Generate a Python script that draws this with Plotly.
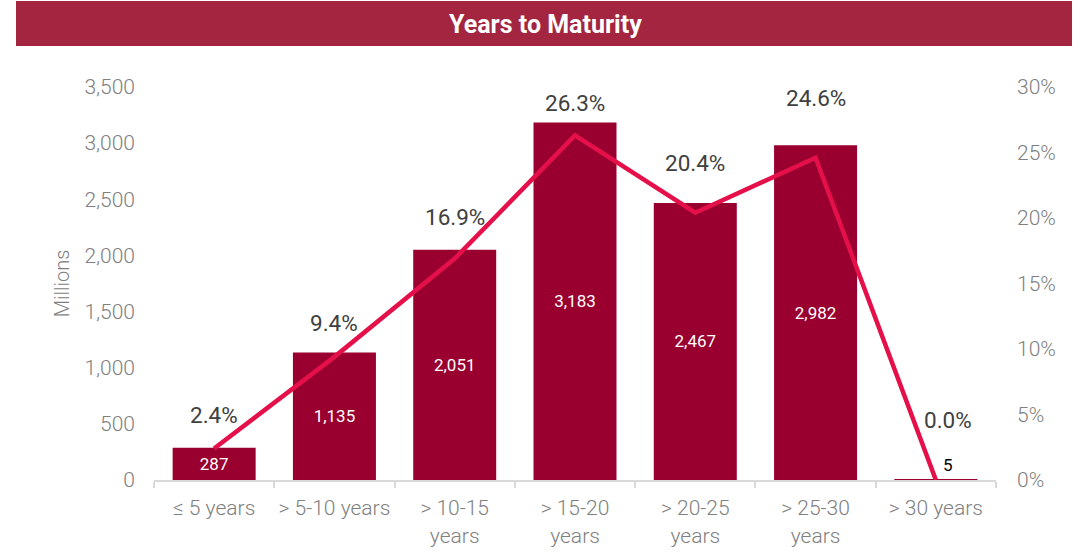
import plotly.graph_objects as go

# ── Data ───────────────────────────────────────────────────────────────────
categories = ["≤ 5 years", "> 5-10 years", "> 10-15<br>years", "> 15-20<br>years",
              "> 20-25<br>years", "> 25-30<br>years", "> 30 years"]
amounts = [287, 1135, 2051, 3183, 2467, 2982, 5]
shares = [2.4, 9.4, 16.9, 26.3, 20.4, 24.6, 0.0]
left_ticks = [0, 500, 1000, 1500, 2000, 2500, 3000, 3500]
right_ticks = [0, 5, 10, 15, 20, 25, 30]

# ── Style ──────────────────────────────────────────────────────────────────
BAR_COLOR = "#99002F"
LINE_COLOR = "#E5104A"
BANNER = "#A3253F"
TICK_GRAY = "#808080"
LABEL_DARK = "#404040"
FONT = "Roboto, sans-serif"
label_shift = [34, 34, 42, 32, 50, 60, 60]  # manual nudges like the original

fig = go.Figure()

# tiny last bar gets its label outside, as an annotation below
bar_text = [f"{v:,}" if v > 100 else "" for v in amounts]
fig.add_trace(go.Bar(
    x=categories,
    y=amounts,
    marker=dict(color=BAR_COLOR, line=dict(width=0)),
    width=0.69,
    text=bar_text,
    textposition="inside",
    insidetextanchor="middle",
    textangle=0,
    insidetextfont=dict(color="white", size=17, family=FONT),
    hoverinfo="skip",
))

fig.add_trace(go.Scatter(
    x=categories,
    y=shares,
    yaxis="y2",
    mode="lines",
    line=dict(color=LINE_COLOR, width=4.5),
    hoverinfo="skip",
))

for cat, v in zip(categories, amounts):
    if v <= 100:
        fig.add_annotation(
            x=cat, y=v, xref="x", yref="y", text=f"{v:,}", showarrow=False,
            yshift=14, xshift=12,
            font=dict(size=17, color="black", family=FONT),
        )

for cat, pct, dy in zip(categories, shares, label_shift):
    fig.add_annotation(
        x=cat, y=pct, xref="x", yref="y2",
        text=f"{pct:.1f}%", showarrow=False, yshift=dy,
        xshift=12 if pct == 0 else 0,
        font=dict(size=22.5, color=LABEL_DARK, family=FONT),
    )

# title banner
fig.add_shape(type="rect", xref="paper", yref="paper",
              x0=(16 - 154) / 842, x1=(1072 - 154) / 842,
              y0=(480 - 46) / 393, y1=(480 - 1) / 393,
              fillcolor=BANNER, line=dict(width=0), layer="below")
fig.add_annotation(
    xref="paper", yref="paper", x=(545 - 154) / 842, y=(480 - 24) / 393,
    xanchor="center", yanchor="middle",
    text="<b>Years to Maturity</b>", showarrow=False,
    font=dict(size=25, color="white", family=FONT),
)

tick_font = dict(size=21, color=TICK_GRAY, family=FONT, weight=300)

fig.update_layout(
    width=1086,
    height=556,
    paper_bgcolor="white",
    plot_bgcolor="white",
    showlegend=False,
    margin=dict(l=154, r=90, t=87, b=76),
    font=dict(family=FONT, color=TICK_GRAY),
    xaxis=dict(
        type="category",
        showgrid=False,
        showline=True,
        linecolor="#D9D9D9",
        linewidth=2,
        ticks="outside",
        tickson="boundaries",
        ticklen=6,
        tickcolor="#D9D9D9",
        tickwidth=2,
        tickangle=0,
        automargin=False,
        ticklabelstandoff=8,
        tickfont=tick_font,
    ),
    yaxis=dict(
        range=[0, 3500],
        tickvals=left_ticks,
        tickformat=",",
        showgrid=False,
        zeroline=False,
        showline=False,
        ticks="",
        automargin=False,
        ticklabelstandoff=18,
        tickfont=tick_font,
        title=dict(text="Millions", standoff=9,
                   font=dict(size=20, color=TICK_GRAY, family=FONT, weight=300)),
    ),
    yaxis2=dict(
        overlaying="y",
        side="right",
        range=[0, 30],
        tickvals=right_ticks,
        ticktext=[f"{t}%" for t in right_ticks],
        showgrid=False,
        zeroline=False,
        showline=False,
        automargin=False,
        ticklabelstandoff=20,
        tickfont=tick_font,
    ),
)

fig.write_html("out.html", config={"displayModeBar": False},
               post_script="document.body.style.margin='0';")
